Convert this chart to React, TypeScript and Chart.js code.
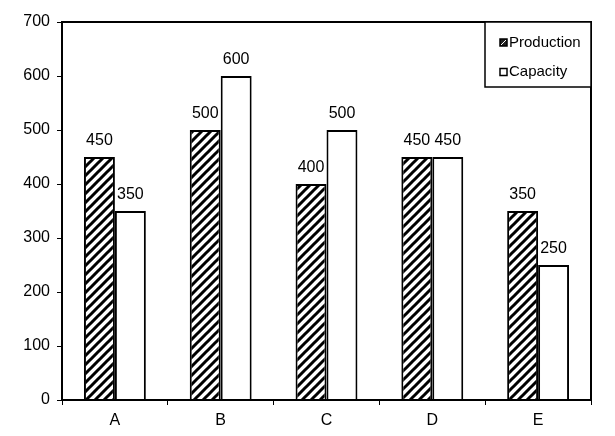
import React, { useEffect, useRef } from "react";
import { Chart, registerables } from "chart.js";

Chart.register(...registerables);

const categories = ["A", "B", "C", "D", "E"];
const production = [450, 500, 400, 450, 350];
const capacity = [350, 600, 500, 450, 250];
const seriesNames = ["Production", "Capacity"];
const yTicks = [0, 100, 200, 300, 400, 500, 600, 700];

const FONT = "'Liberation Sans', Arial, sans-serif";

function makeHatch(): CanvasPattern | string {
  const s = 9;
  const c = document.createElement("canvas");
  c.width = s;
  c.height = s;
  const g = c.getContext("2d");
  if (!g) return "#000";
  g.fillStyle = "#fff";
  g.fillRect(0, 0, s, s);
  g.strokeStyle = "#000";
  g.lineWidth = 3;
  g.beginPath();
  for (const o of [-s, 0, s]) {
    g.moveTo(o - 2, s + 2);
    g.lineTo(o + s + 2, -2);
  }
  g.stroke();
  const ctx = document.createElement("canvas").getContext("2d");
  return ctx ? (ctx.createPattern(c, "repeat") as CanvasPattern) : "#000";
}

const framePlugin = {
  id: "frame",
  afterDatasetsDraw(chart: any) {
    const { ctx, chartArea } = chart;
    ctx.save();
    ctx.strokeStyle = "#000";
    ctx.lineWidth = 2;
    ctx.strokeRect(chartArea.left, chartArea.top, chartArea.right - chartArea.left, chartArea.bottom - chartArea.top);
    // data labels
    ctx.fillStyle = "#000";
    ctx.font = `16px ${FONT}`;
    ctx.textAlign = "center";
    ctx.textBaseline = "bottom";
    chart.data.datasets.forEach((ds: any, di: number) => {
      const meta = chart.getDatasetMeta(di);
      meta.data.forEach((bar: any, i: number) => {
        ctx.fillText(String(ds.data[i]), bar.x, bar.y - 8);
      });
    });
    // legend
    const lx = 485, ly = 22, lw = 106, lh = 65;
    ctx.fillStyle = "#fff";
    ctx.fillRect(lx, ly, lw, lh);
    ctx.lineWidth = 1.5;
    ctx.strokeRect(lx, ly, lw, lh);
    ctx.font = `15px ${FONT}`;
    ctx.textAlign = "left";
    ctx.textBaseline = "middle";
    const rows = [42.5, 72];
    rows.forEach((cy, k) => {
      ctx.fillStyle = k === 0 ? "#222" : "#fff";
      ctx.fillRect(500, cy - 3.5, 7, 7);
      if (k === 0) {
        ctx.strokeStyle = "#fff";
        ctx.lineWidth = 1;
        ctx.beginPath();
        ctx.moveTo(501, cy + 2.5);
        ctx.lineTo(506, cy - 2.5);
        ctx.stroke();
      }
      ctx.strokeStyle = "#000";
      ctx.lineWidth = 1.5;
      ctx.strokeRect(500, cy - 3.5, 7, 7);
      ctx.fillStyle = "#000";
      ctx.fillText(seriesNames[k], 509, cy);
    });
    ctx.restore();
  },
};

export default function App() {
  const ref = useRef<HTMLCanvasElement>(null);
  useEffect(() => {
    if (!ref.current) return;
    const hatch = makeHatch();
    const chart = new Chart(ref.current, {
      type: "bar",
      data: {
        labels: categories,
        datasets: [
          {
            label: seriesNames[0],
            data: production,
            backgroundColor: hatch as any,
            borderColor: "#000",
            borderWidth: 2,
            barPercentage: 1,
            categoryPercentage: 0.585,
          },
          {
            label: seriesNames[1],
            data: capacity,
            backgroundColor: "#fff",
            borderColor: "#000",
            borderWidth: 2,
            barPercentage: 1,
            categoryPercentage: 0.585,
          },
        ],
      },
      options: {
        responsive: false,
        animation: false,
        layout: { padding: { left: 0, right: 24, top: 22, bottom: 0 } },
        plugins: { legend: { display: false }, tooltip: { enabled: false } },
        scales: {
          x: {
            offset: true,
            grid: { offset: true, drawOnChartArea: false, drawTicks: true, tickLength: 5, color: "#000", lineWidth: 1 },
            border: { display: true, color: "#000", width: 2 },
            ticks: { color: "#000", font: { family: FONT, size: 16 }, padding: 6 },
            afterFit(scale: any) {
              scale.height = 36;
            },
          },
          y: {
            min: 0,
            max: 700,
            afterBuildTicks(scale: any) {
              scale.ticks = yTicks.map((v) => ({ value: v }));
            },
            grid: { drawOnChartArea: false, drawTicks: true, tickLength: 5, color: "#000", lineWidth: 1 },
            border: { display: true, color: "#000", width: 2 },
            ticks: { color: "#000", font: { family: FONT, size: 16 }, padding: 7 },
            afterFit(scale: any) {
              scale.width = 62;
            },
          },
        },
      },
      plugins: [framePlugin],
    });
    return () => chart.destroy();
  }, []);
  return (
    <div style={{ position: "absolute", left: 0, top: 0, width: 615, height: 436, background: "#fff" }}>
      <canvas ref={ref} width={615} height={436} style={{ display: "block", width: 615, height: 436 }} />
    </div>
  );
}
